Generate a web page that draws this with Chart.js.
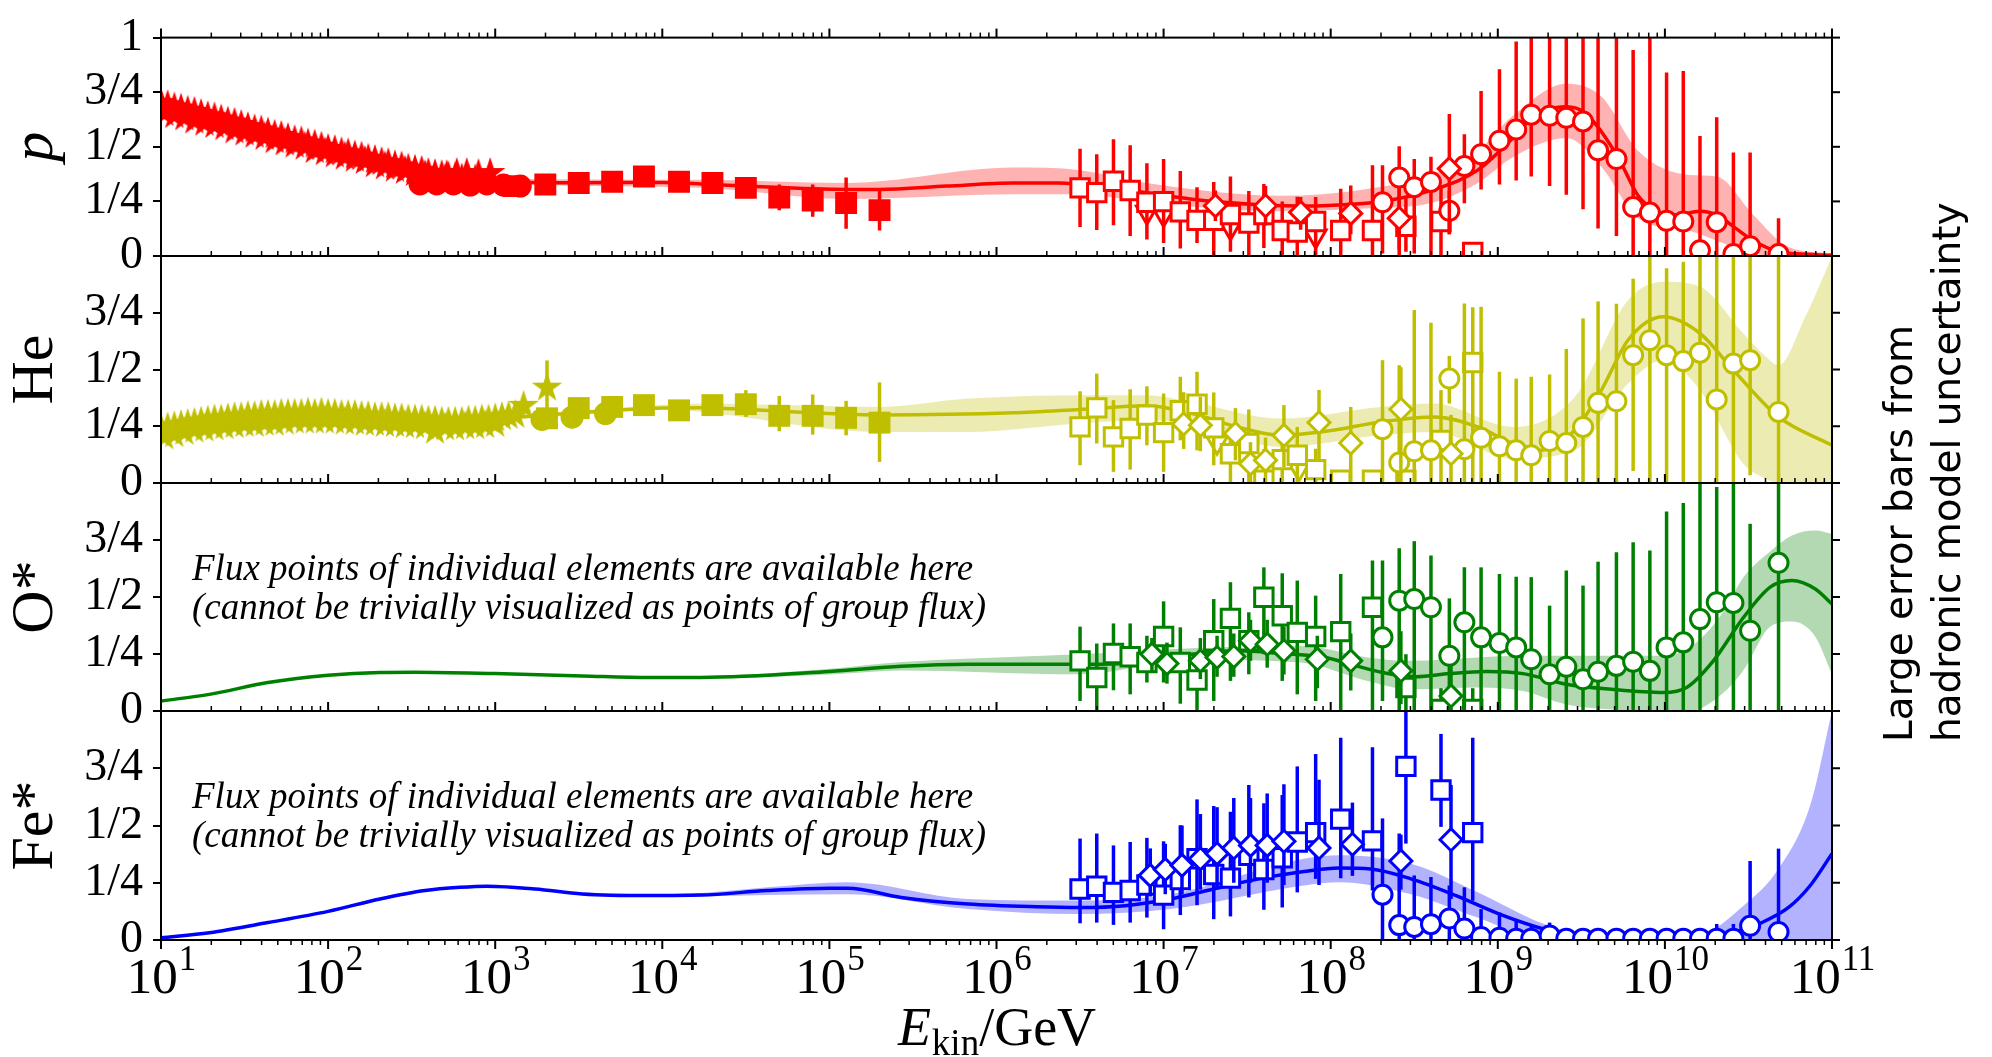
<!DOCTYPE html>
<html>
<head>
<meta charset="utf-8">
<script src="https://cdn.jsdelivr.net/npm/chart.js@4.4.1/dist/chart.umd.min.js"></script>
<style>
  html, body { margin: 0; padding: 0; background: #fff; }
  #wrap { position: relative; width: 1992px; height: 1057px; overflow: hidden; }
  #wrap canvas { position: absolute; left: 0; top: 0; }
</style>
</head>
<body>
<div id="wrap">
  <canvas id="panelP" width="1992" height="1057"></canvas>
  <canvas id="panelHe" width="1992" height="1057"></canvas>
  <canvas id="panelO" width="1992" height="1057"></canvas>
  <canvas id="panelFe" width="1992" height="1057"></canvas>
</div>
<script>
// ---- energies are log10(E/GeV), values are group fractions (0..1) ----

const PANEL_LABELS = ['p', 'He', 'O*', 'Fe*'];
const Y_TICKS = [0, 0.25, 0.5, 0.75, 1];
const Y_TICK_LABELS = ['0', '1/4', '1/2', '3/4', '1'];
const X_DECADES = [1, 2, 3, 4, 5, 6, 7, 8, 9, 10, 11];
const NOTE_LINES = ['Flux points of individual elements are available here',
                    '(cannot be trivially visualized as points of group flux)'];
const SIDE_LINES = ['Large error bars from', 'hadronic model uncertainty'];

// shared energy grids of the air-shower points
const sqE = [6.50, 6.60, 6.70, 6.80, 6.90, 7.00, 7.10, 7.20, 7.30, 7.40, 7.51, 7.60, 7.71, 7.80, 7.91, 8.06, 8.25, 8.45, 8.66, 8.85];
const circE = [8.31, 8.41, 8.50, 8.60, 8.71, 8.80, 8.90, 9.01, 9.11, 9.20, 9.31, 9.41, 9.51, 9.60, 9.71, 9.81, 9.91, 10.01, 10.11, 10.21, 10.31, 10.41, 10.51, 10.68];

// --- proton ---
const pLineE = [1.0, 1.5, 2.0, 2.5, 3.0, 3.5, 4.0, 4.23, 4.5, 5.1, 5.3, 5.7, 6.1, 6.37, 6.5, 6.8, 7.17, 7.57, 7.84, 8.08, 8.31, 8.62, 8.88, 9.09, 9.2, 9.3, 9.41, 9.52, 9.62, 9.73, 9.84, 9.94, 10.07, 10.21, 10.31, 10.42, 10.53, 10.68, 10.79, 11];
const pLineV = [0.69, 0.58, 0.49, 0.41, 0.345, 0.335, 0.337, 0.33, 0.32, 0.305, 0.305, 0.32, 0.334, 0.334, 0.327, 0.30, 0.26, 0.235, 0.229, 0.235, 0.25, 0.305, 0.393, 0.54, 0.63, 0.67, 0.683, 0.657, 0.569, 0.437, 0.276, 0.21, 0.188, 0.205, 0.188, 0.129, 0.07, 0.019, 0.01, 0.003];
const pBandE = [1, 1.5, 2, 2.5, 3, 4.23, 5.1, 6.1, 6.5, 6.9, 7.7, 8.2, 8.62, 8.88, 9.09, 9.41, 9.62, 9.84, 10.15, 10.31, 10.53, 10.74, 11];
const pBandHi = [0.70, 0.59, 0.50, 0.42, 0.355, 0.349, 0.334, 0.405, 0.393, 0.334, 0.276, 0.305, 0.378, 0.481, 0.642, 0.789, 0.73, 0.481, 0.371, 0.364, 0.188, 0.041, 0.012];
const pBandLo = [0.68, 0.57, 0.48, 0.40, 0.335, 0.312, 0.261, 0.283, 0.283, 0.246, 0.205, 0.217, 0.246, 0.334, 0.452, 0.54, 0.408, 0.173, 0.114, 0.07, 0.012, 0, 0];
const pStarE = [1.00, 1.04, 1.08, 1.12, 1.16, 1.20, 1.24, 1.28, 1.32, 1.36, 1.40, 1.44, 1.48, 1.52, 1.56, 1.60, 1.64, 1.68, 1.72, 1.76, 1.80, 1.84, 1.88, 1.92, 1.96, 2.00, 2.04, 2.08, 2.12, 2.16, 2.20, 2.24, 2.28, 2.32, 2.36, 2.40, 2.44, 2.48, 2.52, 2.56, 2.60, 2.64, 2.68, 2.72, 2.76, 2.80, 2.84, 2.88];
const pStarV = [0.70, 0.69, 0.68, 0.675, 0.665, 0.66, 0.65, 0.64, 0.635, 0.625, 0.615, 0.61, 0.60, 0.59, 0.58, 0.575, 0.565, 0.555, 0.55, 0.54, 0.53, 0.525, 0.515, 0.51, 0.50, 0.49, 0.485, 0.475, 0.47, 0.46, 0.455, 0.445, 0.44, 0.43, 0.425, 0.415, 0.41, 0.40, 0.395, 0.39, 0.38, 0.375, 0.37, 0.365, 0.36, 0.355, 0.35, 0.35];
const pStar2E = [1.02, 1.08, 1.14, 1.20, 1.26, 1.32, 1.38, 1.44, 1.50, 1.56, 1.62, 1.68, 1.74, 1.80, 1.86, 1.92, 1.98, 2.04, 2.10, 2.16, 2.22, 2.28, 2.34, 2.40, 2.46, 2.52, 2.58, 2.64, 2.70];
const pStar2V = [0.655, 0.645, 0.635, 0.62, 0.61, 0.60, 0.59, 0.575, 0.565, 0.555, 0.545, 0.53, 0.52, 0.51, 0.50, 0.485, 0.475, 0.465, 0.455, 0.445, 0.435, 0.42, 0.41, 0.40, 0.39, 0.38, 0.37, 0.36, 0.35];
const pStar3E = [2.71, 2.77, 2.83, 2.90, 2.97];
const pStar3V = [0.37, 0.38, 0.38, 0.375, 0.38];
const pDotE = [2.55, 2.65, 2.75, 2.85, 2.95, 3.05, 3.15];
const pDotV = [0.33, 0.33, 0.33, 0.325, 0.33, 0.325, 0.32];
const pSqE = [3.11, 3.30, 3.50, 3.70, 3.89, 4.10, 4.30, 4.50, 4.70, 4.90, 5.10, 5.30];
const pSqV = [0.32, 0.327, 0.334, 0.34, 0.364, 0.34, 0.334, 0.312, 0.268, 0.254, 0.243, 0.21];
const pSqHi = [0.32, 0.327, 0.334, 0.34, 0.364, 0.34, 0.334, 0.312, 0.327, 0.327, 0.36, 0.30];
const pSqLo = [0.32, 0.327, 0.334, 0.34, 0.364, 0.34, 0.334, 0.312, 0.21, 0.18, 0.125, 0.117];
const pOSqV = [0.312, 0.29, 0.342, 0.30, 0.246, 0.249, 0.202, 0.163, 0.163, 0.19, 0.151, 0.19, 0.117, 0.11, 0.158, 0.117, 0.117, 0.136, 0.158, 0.016];
const pOSqHi = [0.491, 0.466, 0.535, 0.507, 0.425, 0.444, 0.389, 0.315, 0.339, 0.364, 0.298, 0.33, 0.25, 0.271, 0.27, 0.308, 0.415, 0.268, 0.312, 0.04];
const pOSqLo = [0.133, 0.119, 0.141, 0.092, 0.075, 0.06, 0.034, 0.06, 0, 0.02, 0, 0.037, 0, 0, 0, 0, 0, 0.019, 0, 0];
const pCircV = [0.246, 0.359, 0.315, 0.339, 0.207, 0.412, 0.466, 0.528, 0.579, 0.647, 0.642, 0.633, 0.616, 0.484, 0.444, 0.224, 0.199, 0.161, 0.158, 0.026, 0.155, 0.009, 0.045, 0.009];
const pCircHi = [0.415, 0.503, 0.444, 0.455, 0.30, 0.557, 0.755, 0.855, 0.982, 1.05, 1.05, 1.05, 1.05, 1.05, 1.05, 0.943, 1.05, 0.84, 0.847, 0.55, 0.635, 0.474, 0.474, 0.173];
const pCircLo = [0.012, 0.004, 0.012, 0.004, 0.10, 0.242, 0.305, 0.327, 0.346, 0.364, 0.32, 0.28, 0.214, 0.126, 0.092, 0, 0, 0, 0, 0, 0, 0, 0, 0];
const pDiaE = [7.31, 7.61, 7.82, 8.12, 8.41, 8.71];
const pDiaV = [0.23, 0.23, 0.20, 0.195, 0.173, 0.40];
const pDiaHi = [0.30, 0.32, 0.27, 0.323, 0.32, 0.65];
const pDiaLo = [0.16, 0.14, 0.12, 0.10, 0.03, 0.10];
const pTriE = [6.90, 7.00, 7.40, 7.91];
const pTriV = [0.20, 0.19, 0.129, 0.092];

// --- helium ---
const heLineE = [1.0, 1.5, 2.0, 2.5, 3.0, 3.5, 4.0, 4.23, 4.5, 5.1, 5.3, 6.1, 6.5, 6.9, 7.17, 7.44, 7.7, 7.97, 8.31, 8.62, 8.88, 9.09, 9.25, 9.46, 9.62, 9.78, 9.99, 10.21, 10.41, 10.68, 11];
const heLineV = [0.23, 0.28, 0.29, 0.28, 0.285, 0.31, 0.33, 0.332, 0.324, 0.303, 0.30, 0.309, 0.324, 0.34, 0.306, 0.247, 0.21, 0.228, 0.27, 0.291, 0.247, 0.174, 0.144, 0.232, 0.409, 0.63, 0.732, 0.659, 0.497, 0.291, 0.166];
const heBandE = [1, 1.5, 2, 2.5, 3, 3.5, 4, 4.23, 5.3, 5.83, 6.5, 6.9, 7.17, 7.7, 8.3, 8.62, 9.09, 9.46, 9.78, 9.99, 10.21, 10.47, 10.6, 10.68, 10.84, 11];
const heBandHi = [0.24, 0.29, 0.30, 0.29, 0.295, 0.32, 0.345, 0.35, 0.335, 0.372, 0.387, 0.387, 0.357, 0.284, 0.335, 0.35, 0.247, 0.379, 0.806, 0.887, 0.865, 0.659, 0.56, 0.519, 0.732, 0.997];
const heBandLo = [0.22, 0.27, 0.28, 0.27, 0.275, 0.30, 0.325, 0.313, 0.225, 0.225, 0.262, 0.276, 0.262, 0.159, 0.21, 0.225, 0.107, 0.144, 0.438, 0.541, 0.409, 0.085, 0.02, 0, 0, 0];
const heStarE = [1.00, 1.04, 1.08, 1.12, 1.16, 1.20, 1.24, 1.28, 1.32, 1.36, 1.40, 1.44, 1.48, 1.52, 1.56, 1.60, 1.64, 1.68, 1.72, 1.76, 1.80, 1.84, 1.88, 1.92, 1.96, 2.00, 2.04, 2.08, 2.12, 2.16, 2.20, 2.24, 2.28, 2.32, 2.36, 2.40, 2.44, 2.48, 2.52, 2.56, 2.60, 2.64, 2.68, 2.72, 2.76, 2.80, 2.84, 2.88, 2.92, 2.96, 3.00, 3.04, 3.08, 3.12];
const heStarV = [0.24, 0.245, 0.25, 0.255, 0.26, 0.265, 0.27, 0.275, 0.28, 0.28, 0.285, 0.29, 0.29, 0.295, 0.295, 0.30, 0.30, 0.30, 0.305, 0.305, 0.305, 0.305, 0.31, 0.305, 0.31, 0.305, 0.305, 0.30, 0.30, 0.30, 0.295, 0.295, 0.29, 0.29, 0.29, 0.285, 0.285, 0.28, 0.28, 0.28, 0.275, 0.275, 0.27, 0.27, 0.27, 0.27, 0.275, 0.275, 0.28, 0.28, 0.285, 0.29, 0.295, 0.30];
const heStar2E = [1.02, 1.08, 1.14, 1.20, 1.26, 1.32, 1.38, 1.44, 1.50, 1.56, 1.62, 1.68, 1.74, 1.80, 1.86, 1.92, 1.98, 2.04, 2.10, 2.16, 2.22, 2.28, 2.34, 2.40, 2.46, 2.52, 2.58, 2.64, 2.70, 2.76, 2.82, 2.88, 2.94, 3.00];
const heStar2V = [0.205, 0.215, 0.225, 0.235, 0.24, 0.245, 0.25, 0.255, 0.26, 0.26, 0.265, 0.265, 0.27, 0.275, 0.275, 0.275, 0.275, 0.275, 0.27, 0.27, 0.265, 0.265, 0.26, 0.26, 0.255, 0.255, 0.25, 0.23, 0.245, 0.245, 0.25, 0.25, 0.255, 0.26];
const heStar3E = [3.17, 3.31];
const heStar3V = [0.34, 0.42];
const heStar3Hi = [null, 0.54];
const heStar3Lo = [null, 0.31];
const heDotE = [3.28, 3.46, 3.66];
const heDotV = [0.28, 0.29, 0.306];
const heSqE = [3.31, 3.50, 3.70, 3.89, 4.10, 4.30, 4.50, 4.70, 4.90, 5.10, 5.30];
const heSqV = [0.285, 0.33, 0.335, 0.343, 0.32, 0.343, 0.347, 0.296, 0.296, 0.287, 0.266];
const heSqHi = [0.285, 0.33, 0.335, 0.343, 0.32, 0.36, 0.409, 0.384, 0.39, 0.362, 0.443];
const heSqLo = [0.285, 0.33, 0.335, 0.343, 0.32, 0.33, 0.291, 0.228, 0.213, 0.21, 0.093];
const heOSqV = [0.247, 0.331, 0.203, 0.24, 0.299, 0.222, 0.318, 0.347, 0.243, 0.129, 0.174, 0.012, 0.103, 0.122, 0.059, 0.012, 0.012, 0.012, 0.188, 0.531];
const heOSqHi = [0.404, 0.482, 0.365, 0.413, 0.426, 0.394, 0.468, 0.49, 0.399, 0.247, 0.324, 0.15, 0.203, 0.247, 0.151, 0.05, 0.05, 0.06, 0.409, 0.774];
const heOSqLo = [0.078, 0.174, 0.049, 0.059, 0.166, 0.049, 0.188, 0.144, 0.078, 0, 0, 0, 0, 0, 0, 0, 0, 0, 0, 0];
const heCircV = [0.237, 0.09, 0.14, 0.144, 0.46, 0.149, 0.199, 0.162, 0.144, 0.122, 0.185, 0.176, 0.247, 0.353, 0.36, 0.563, 0.629, 0.563, 0.537, 0.574, 0.368, 0.526, 0.541, 0.313];
const heCircHi = [0.541, 0.519, 0.762, 0.706, 0.56, 0.791, 0.776, 0.49, 0.46, 0.468, 0.478, 0.59, 0.725, 0.80, 0.79, 0.90, 1.05, 0.946, 0.975, 1.05, 1.05, 1.05, 1.05, 1.05];
const heCircLo = [0, 0, 0, 0, 0.35, 0, 0, 0, 0, 0, 0, 0, 0, 0, 0, 0.053, 0, 0, 0, 0, 0, 0, 0.034, 0];
const heDiaE = [7.12, 7.22, 7.43, 7.52, 7.61, 7.72, 7.93, 8.12, 8.42, 8.72];
const heDiaV = [0.26, 0.254, 0.218, 0.085, 0.10, 0.21, 0.266, 0.176, 0.325, 0.129];
const heDiaHi = [0.40, 0.38, 0.33, 0.18, 0.20, 0.343, 0.41, 0.335, 0.51, 0.30];
const heDiaLo = [0.15, 0.14, 0.10, 0, 0, 0.07, 0.10, 0, 0, 0];
const heTriE = [7.32, 7.81];
const heTriV = [0.18, 0.063];

// --- oxygen group ---
const oLineE = [1.0, 1.29, 1.64, 2.0, 2.31, 2.52, 3.0, 3.52, 3.92, 4.23, 5.0, 5.43, 5.83, 6.5, 6.9, 7.17, 7.44, 7.71, 7.97, 8.08, 8.31, 8.51, 8.71, 8.93, 9.15, 9.41, 9.68, 9.99, 10.13, 10.29, 10.47, 10.63, 10.76, 10.9, 11];
const oLineV = [0.044, 0.073, 0.125, 0.157, 0.169, 0.17, 0.164, 0.154, 0.147, 0.147, 0.173, 0.196, 0.205, 0.205, 0.213, 0.249, 0.264, 0.252, 0.235, 0.213, 0.169, 0.15, 0.164, 0.173, 0.164, 0.117, 0.095, 0.081, 0.103, 0.22, 0.41, 0.543, 0.572, 0.535, 0.469];
const oBandE = [1, 1.29, 1.64, 2.0, 2.31, 2.52, 3, 3.52, 3.92, 4.23, 5.0, 5.43, 6.5, 7.17, 7.82, 8.22, 8.48, 8.88, 9.15, 9.41, 9.68, 9.94, 10.15, 10.34, 10.47, 10.63, 10.76, 10.9, 11];
const oBandHi = [0.048, 0.077, 0.129, 0.161, 0.173, 0.174, 0.168, 0.158, 0.151, 0.152, 0.185, 0.215, 0.249, 0.275, 0.286, 0.235, 0.22, 0.235, 0.242, 0.242, 0.242, 0.242, 0.279, 0.425, 0.587, 0.70, 0.77, 0.792, 0.777];
const oBandLo = [0.040, 0.069, 0.121, 0.153, 0.165, 0.166, 0.160, 0.150, 0.143, 0.142, 0.160, 0.178, 0.161, 0.225, 0.213, 0.132, 0.095, 0.103, 0.088, 0.029, 0.007, 0, 0, 0.073, 0.179, 0.37, 0.393, 0.326, 0.161];
const oOSqV = [0.22, 0.147, 0.252, 0.238, 0.213, 0.327, 0.213, 0.136, 0.308, 0.406, 0.308, 0.499, 0.418, 0.345, 0.327, 0.348, 0.455, 0.103, 0.007, 0.007];
const oOSqHi = [0.37, 0.296, 0.384, 0.384, 0.33, 0.481, 0.367, 0.249, 0.491, 0.565, 0.433, 0.63, 0.604, 0.572, 0.506, 0.601, 0.66, 0.249, 0.1, 0.1];
const oOSqLo = [0.044, 0, 0.091, 0.073, 0.125, 0.125, 0.032, 0, 0.044, 0.132, 0.161, 0.249, 0.132, 0.073, 0.044, 0, 0, 0, 0, 0];
const oCircV = [0.323, 0.484, 0.491, 0.455, 0.242, 0.389, 0.323, 0.298, 0.279, 0.227, 0.161, 0.194, 0.139, 0.172, 0.198, 0.216, 0.176, 0.279, 0.301, 0.403, 0.477, 0.474, 0.352, 0.65];
const oCircHi = [0.66, 0.714, 0.745, 0.682, 0.494, 0.63, 0.63, 0.601, 0.589, 0.587, 0.462, 0.616, 0.55, 0.655, 0.696, 0.74, 0.704, 0.875, 0.912, 1.05, 0.982, 1.05, 0.821, 1.05];
const oCircLo = [0.044, 0, 0, 0, 0, 0, 0, 0, 0, 0, 0, 0, 0, 0, 0, 0, 0, 0, 0, 0, 0, 0, 0, 0];
const oDiaE = [6.93, 7.02, 7.22, 7.32, 7.42, 7.52, 7.62, 7.72, 7.92, 8.12, 8.42, 8.72];
const oDiaV = [0.249, 0.208, 0.22, 0.235, 0.239, 0.308, 0.293, 0.264, 0.227, 0.22, 0.176, 0.066];
const oDiaHi = [0.32, 0.30, 0.32, 0.33, 0.34, 0.40, 0.40, 0.37, 0.33, 0.34, 0.35, 0.20];
const oDiaLo = [0.17, 0.12, 0.14, 0.15, 0.15, 0.22, 0.19, 0.16, 0.10, 0.09, 0.03, 0];

// --- iron group ---
const feLineE = [1.0, 1.29, 1.64, 2.0, 2.31, 2.58, 2.79, 2.95, 3.24, 3.52, 3.92, 4.23, 4.63, 5.0, 5.11, 5.43, 5.83, 6.24, 6.5, 6.77, 7.04, 7.3, 7.57, 7.84, 8.05, 8.24, 8.48, 8.75, 9.01, 9.28, 9.54, 9.94, 10.21, 10.42, 10.58, 10.74, 10.87, 11];
const feLineV = [0.01, 0.032, 0.076, 0.125, 0.179, 0.216, 0.23, 0.235, 0.223, 0.201, 0.194, 0.196, 0.216, 0.226, 0.226, 0.186, 0.157, 0.145, 0.142, 0.15, 0.179, 0.223, 0.267, 0.299, 0.314, 0.31, 0.267, 0.194, 0.113, 0.047, 0.01, 0.003, 0.015, 0.035, 0.076, 0.142, 0.238, 0.377];
const feBandE = [1.0, 1.29, 1.64, 2.0, 2.31, 2.58, 2.79, 2.95, 3.24, 3.52, 3.92, 4.23, 4.63, 5.11, 5.83, 6.5, 7.04, 7.84, 8.05, 8.48, 8.88, 9.28, 9.68, 10.21, 10.47, 10.68, 10.87, 11];
const feBandHi = [0.015, 0.037, 0.081, 0.13, 0.184, 0.221, 0.235, 0.24, 0.228, 0.206, 0.2, 0.205, 0.23, 0.252, 0.179, 0.172, 0.2, 0.355, 0.37, 0.333, 0.208, 0.069, 0.006, 0.025, 0.15, 0.311, 0.589, 1.0];
const feBandLo = [0.005, 0.027, 0.071, 0.12, 0.174, 0.211, 0.225, 0.23, 0.218, 0.196, 0.188, 0.19, 0.196, 0.20, 0.135, 0.113, 0.135, 0.238, 0.252, 0.2, 0.098, 0, 0, 0, 0, 0, 0, 0];
const feOSqV = [0.223, 0.235, 0.208, 0.216, 0.24, 0.196, 0.264, 0.355, 0.286, 0.27, 0.37, 0.308, 0.359, 0.428, 0.469, 0.528, 0.433, 0.758, 0.655, 0.469];
const feOSqHi = [0.443, 0.465, 0.413, 0.428, 0.446, 0.431, 0.501, 0.614, 0.585, 0.56, 0.677, 0.597, 0.633, 0.758, 0.812, 0.883, 0.842, 1.05, 0.9, 0.883];
const feOSqLo = [0.073, 0.076, 0.066, 0.076, 0.098, 0.047, 0.109, 0.152, 0.091, 0.103, 0.186, 0.132, 0.142, 0.208, 0.267, 0.27, 0.216, 0.421, 0.494, 0.171];
const feCircV = [0.198, 0.065, 0.057, 0.069, 0.094, 0.05, 0.013, 0.01, 0.006, 0.006, 0.02, 0.006, 0.006, 0.006, 0.006, 0.006, 0.006, 0.006, 0.006, 0.006, 0.006, 0.006, 0.062, 0.035];
const feCircHi = [0.531, 0.465, 0.282, 0.275, 0.238, 0.23, 0.135, 0.12, 0.09, 0.06, 0.076, 0.03, 0.03, 0.03, 0.03, 0.03, 0.03, 0.03, 0.03, 0.03, 0.07, 0.07, 0.345, 0.399];
const feCircLo = [0, 0, 0, 0, 0, 0, 0, 0, 0, 0, 0, 0, 0, 0, 0, 0, 0, 0, 0, 0, 0, 0, 0, 0];
const feDiaE = [6.92, 7.01, 7.11, 7.22, 7.32, 7.42, 7.52, 7.62, 7.72, 7.93, 8.13, 8.42, 8.72];
const feDiaV = [0.282, 0.308, 0.326, 0.355, 0.377, 0.402, 0.413, 0.413, 0.431, 0.402, 0.418, 0.345, 0.438];
const feDiaHi = [0.40, 0.42, 0.50, 0.55, 0.58, 0.62, 0.62, 0.64, 0.68, 0.70, 0.60, 0.46, 0.677];
const feDiaLo = [0.19, 0.20, 0.20, 0.22, 0.22, 0.25, 0.25, 0.25, 0.24, 0.24, 0.28, 0.22, 0.179];

// ---- layout ----
const W = 1992, H = 1057;
const PLOT_L = 161, PLOT_R = 1832;
const PANEL_TOP = [28, 256, 483, 711];
const PANEL_BOT = [256, 483, 711, 940];
const SERIF = '"Liberation Serif", "Times New Roman", serif';
const SANS = '"DejaVu Sans", sans-serif';

const RED = '#ff0000', OLIVE = '#bfbf00', GREEN = '#008000', BLUE = '#0000ff';

// ---- dataset helpers ----
const pts = (E, V) => E.map((e, i) => ({ x: Math.pow(10, e), y: V[i] }));

function curve(E, V, color) {
    return { type: 'line', data: pts(E, V), borderColor: color, borderWidth: 3.5,
             pointRadius: 0, fill: false, cubicInterpolationMode: 'monotone', order: 6 };
}

function band(E, lo, hi, color) {
    return [
        { type: 'line', data: pts(E, lo), borderWidth: 0, pointRadius: 0, fill: false,
          cubicInterpolationMode: 'monotone', order: 9 },
        { type: 'line', data: pts(E, hi), borderWidth: 0, pointRadius: 0, fill: '-1',
          backgroundColor: color, cubicInterpolationMode: 'monotone', order: 8 },
    ];
}

function starImage(color, r) {
    const c = document.createElement('canvas');
    const s = Math.ceil(2 * r + 2);
    c.width = s; c.height = s;
    const g = c.getContext('2d');
    g.fillStyle = color;
    g.beginPath();
    for (let k = 0; k < 10; k++) {
        const rr = k % 2 ? r * 0.382 : r;
        const a = -Math.PI / 2 + k * Math.PI / 5;
        g.lineTo(s / 2 + rr * Math.cos(a), s / 2 + rr * Math.sin(a));
    }
    g.closePath();
    g.fill();
    return c;
}

const STYLE = {
    openSq:  c => ({ pointStyle: 'rect', pointRadius: 13, pointBorderWidth: 3, pointBorderColor: c, pointBackgroundColor: '#fff', barColor: c, order: 3 }),
    openCirc: c => ({ pointStyle: 'circle', pointRadius: 9.5, pointBorderWidth: 3, pointBorderColor: c, pointBackgroundColor: '#fff', barColor: c, order: 2 }),
    openDia: c => ({ pointStyle: 'rectRot', pointRadius: 11, pointBorderWidth: 3, pointBorderColor: c, pointBackgroundColor: '#fff', barColor: c, order: 1 }),
    openTri: c => ({ pointStyle: 'triangle', pointRotation: 180, pointRadius: 12, pointBorderWidth: 3, pointBorderColor: c, pointBackgroundColor: '#fff', barColor: c, order: 4 }),
    fillSq:  c => ({ pointStyle: 'rect', pointRadius: 15.5, pointBorderWidth: 0, pointBorderColor: c, pointBackgroundColor: c, barColor: c, order: 3 }),
    fillCirc: c => ({ pointStyle: 'circle', pointRadius: 11.5, pointBorderWidth: 0, pointBorderColor: c, pointBackgroundColor: c, barColor: c, order: 4 }),
    star:    c => ({ pointStyle: starImage(c, 16), pointRadius: 16, barColor: c, order: 5 }),
};

function marks(E, V, lo, hi, style) {
    return Object.assign({ type: 'scatter', data: pts(E, V), errLo: lo, errHi: hi, showLine: false }, style);
}

// ---- frame, outward ticks, error bars and free text ----
const panelDeco = {
    id: 'panelDeco',
    beforeDatasetDraw(chart, args) {
        const ds = chart.data.datasets[args.index];
        if (!ds.errHi) return;
        const { ctx, chartArea: a, scales: { x, y } } = chart;
        ctx.save();
        ctx.beginPath();
        ctx.rect(a.left, a.top, a.right - a.left, a.bottom - a.top);
        ctx.clip();
        ctx.strokeStyle = ds.barColor;
        ctx.lineWidth = 3.5;
        ds.data.forEach((p, i) => {
            const hi = ds.errHi[i], lo = ds.errLo[i];
            if (hi == null || lo == null || hi === lo) return;
            const px = x.getPixelForValue(p.x);
            ctx.beginPath();
            ctx.moveTo(px, y.getPixelForValue(lo));
            ctx.lineTo(px, y.getPixelForValue(hi));
            ctx.stroke();
        });
        ctx.restore();
    },
    afterDraw(chart, args, opts) {
        const { ctx, chartArea: a, scales: { x, y } } = chart;
        ctx.save();
        ctx.strokeStyle = '#000';
        ctx.fillStyle = '#000';
        ctx.lineWidth = 2;
        ctx.strokeRect(a.left, a.top, a.right - a.left, a.bottom - a.top);

        const tick = (x0, y0, x1, y1, w) => {
            ctx.lineWidth = w;
            ctx.beginPath(); ctx.moveTo(x0, y0); ctx.lineTo(x1, y1); ctx.stroke();
        };
        // log ticks along the top edge (and bottom edge on the last panel)
        X_DECADES.forEach(d => {
            const px = x.getPixelForValue(Math.pow(10, d));
            tick(px, a.top, px, a.top - 9, 2);
            if (opts.xAxis) tick(px, a.bottom, px, a.bottom + 9, 2);
            if (d === 11) return;
            for (let k = 2; k <= 9; k++) {
                const mx = x.getPixelForValue(k * Math.pow(10, d));
                tick(mx, a.top, mx, a.top - 5, 1.5);
                if (opts.xAxis) tick(mx, a.bottom, mx, a.bottom + 5, 1.5);
            }
        });
        // right-hand ticks
        Y_TICKS.forEach(v => {
            const py = y.getPixelForValue(v);
            tick(a.right, py, a.right + 8, py, 2);
        });

        if (opts.xAxis) {
            ctx.textAlign = 'left';
            ctx.textBaseline = 'alphabetic';
            X_DECADES.forEach(d => {
                const px = x.getPixelForValue(Math.pow(10, d));
                const sup = String(d);
                ctx.font = '51px ' + SERIF;
                const wb = ctx.measureText('10').width;
                ctx.font = '35px ' + SERIF;
                const ws = ctx.measureText(sup).width;
                const x0 = px - (wb + ws) / 2;
                ctx.font = '51px ' + SERIF;
                ctx.fillText('10', x0, 993);
                ctx.font = '35px ' + SERIF;
                ctx.fillText(sup, x0 + wb + 1, 970);
            });
            // E_kin / GeV
            const cx = (a.left + a.right) / 2;
            ctx.font = 'italic 54px ' + SERIF;
            const wE = ctx.measureText('E').width;
            ctx.font = '37px ' + SERIF;
            const wK = ctx.measureText('kin').width;
            ctx.font = '54px ' + SERIF;
            const wG = ctx.measureText('/GeV').width;
            const x0 = cx - (wE + wK + wG) / 2;
            ctx.font = 'italic 54px ' + SERIF;
            ctx.fillText('E', x0, 1045);
            ctx.font = '37px ' + SERIF;
            ctx.fillText('kin', x0 + wE + 1, 1055);
            ctx.font = '54px ' + SERIF;
            ctx.fillText('/GeV', x0 + wE + wK + 1, 1045);
        }

        if (opts.note) {
            ctx.font = 'italic 37px ' + SERIF;
            ctx.textAlign = 'left';
            ctx.textBaseline = 'alphabetic';
            ctx.fillText(NOTE_LINES[0], 192, a.top + 97);
            ctx.fillText(NOTE_LINES[1], 192, a.top + 136);
        }

        if (opts.side) {
            ctx.font = '39px ' + SANS;
            ctx.textAlign = 'left';
            ctx.textBaseline = 'middle';
            [[SIDE_LINES[0], 1902], [SIDE_LINES[1], 1950]].forEach(([txt, sx]) => {
                ctx.save();
                ctx.translate(sx, 742);
                ctx.rotate(-Math.PI / 2);
                ctx.fillText(txt, 0, 0);
                ctx.restore();
            });
        }
        ctx.restore();
    }
};

// ---- one chart per panel, all sharing the same log energy axis ----
function makePanel(canvasId, idx, datasets, deco) {
    const yTicks = idx === 0 ? Y_TICKS : Y_TICKS.slice(0, 4);
    return new Chart(document.getElementById(canvasId), {
        type: 'scatter',
        data: { datasets: datasets },
        options: {
            responsive: false,
            animation: false,
            events: [],
            devicePixelRatio: 1,
            layout: { padding: { left: 0, right: W - PLOT_R, top: PANEL_TOP[idx], bottom: H - PANEL_BOT[idx] } },
            plugins: {
                legend: { display: false },
                tooltip: { enabled: false },
                panelDeco: deco,
            },
            scales: {
                x: { type: 'logarithmic', min: 10, max: 1e11, display: false },
                y: {
                    min: 0, max: 1,
                    afterBuildTicks: s => { s.ticks = yTicks.map(v => ({ value: v })); },
                    afterFit: s => { s.width = PLOT_L; },
                    ticks: {
                        autoSkip: false,
                        padding: 10,
                        color: '#000',
                        font: { family: SERIF, size: 46 },
                        callback: v => Y_TICK_LABELS[Y_TICKS.indexOf(v)],
                    },
                    grid: { drawOnChartArea: false, drawTicks: true, tickLength: 8,
                            lineWidth: 2, tickWidth: 2, color: '#000', tickColor: '#000' },
                    border: { display: true, color: '#000', width: 2 },
                    title: {
                        display: true,
                        text: PANEL_LABELS[idx],
                        color: '#000',
                        font: { family: SERIF, size: 60, style: idx === 0 ? 'italic' : 'normal' },
                        padding: { top: 0, bottom: 0 },
                    },
                },
            },
        },
        plugins: [panelDeco],
    });
}

makePanel('panelP', 0, [
    ...band(pBandE, pBandLo, pBandHi, 'rgba(255,0,0,0.3)'),
    curve(pLineE, pLineV, RED),
    marks(pStarE, pStarV, null, null, STYLE.star(RED)),
    marks(pStar2E, pStar2V, null, null, STYLE.star(RED)),
    marks(pStar3E, pStar3V, null, null, STYLE.star(RED)),
    marks(pDotE, pDotV, null, null, STYLE.fillCirc(RED)),
    marks(pSqE, pSqV, pSqLo, pSqHi, STYLE.fillSq(RED)),
    marks(sqE, pOSqV, pOSqLo, pOSqHi, STYLE.openSq(RED)),
    marks(pTriE, pTriV, null, null, STYLE.openTri(RED)),
    marks(pDiaE, pDiaV, pDiaLo, pDiaHi, STYLE.openDia(RED)),
    marks(circE, pCircV, pCircLo, pCircHi, STYLE.openCirc(RED)),
], { side: true });

makePanel('panelHe', 1, [
    ...band(heBandE, heBandLo, heBandHi, 'rgba(191,191,0,0.3)'),
    curve(heLineE, heLineV, OLIVE),
    marks(heStarE, heStarV, null, null, STYLE.star(OLIVE)),
    marks(heStar2E, heStar2V, null, null, STYLE.star(OLIVE)),
    marks(heStar3E, heStar3V, heStar3Lo, heStar3Hi, STYLE.star(OLIVE)),
    marks(heDotE, heDotV, null, null, STYLE.fillCirc(OLIVE)),
    marks(heSqE, heSqV, heSqLo, heSqHi, STYLE.fillSq(OLIVE)),
    marks(sqE, heOSqV, heOSqLo, heOSqHi, STYLE.openSq(OLIVE)),
    marks(heTriE, heTriV, null, null, STYLE.openTri(OLIVE)),
    marks(heDiaE, heDiaV, heDiaLo, heDiaHi, STYLE.openDia(OLIVE)),
    marks(circE, heCircV, heCircLo, heCircHi, STYLE.openCirc(OLIVE)),
], {});

makePanel('panelO', 2, [
    ...band(oBandE, oBandLo, oBandHi, 'rgba(0,128,0,0.3)'),
    curve(oLineE, oLineV, GREEN),
    marks(sqE, oOSqV, oOSqLo, oOSqHi, STYLE.openSq(GREEN)),
    marks(oDiaE, oDiaV, oDiaLo, oDiaHi, STYLE.openDia(GREEN)),
    marks(circE, oCircV, oCircLo, oCircHi, STYLE.openCirc(GREEN)),
], { note: true });

makePanel('panelFe', 3, [
    ...band(feBandE, feBandLo, feBandHi, 'rgba(0,0,255,0.3)'),
    curve(feLineE, feLineV, BLUE),
    marks(sqE, feOSqV, feOSqLo, feOSqHi, STYLE.openSq(BLUE)),
    marks(feDiaE, feDiaV, feDiaLo, feDiaHi, STYLE.openDia(BLUE)),
    marks(circE, feCircV, feCircLo, feCircHi, STYLE.openCirc(BLUE)),
], { note: true, xAxis: true });
</script>
</body>
</html>
